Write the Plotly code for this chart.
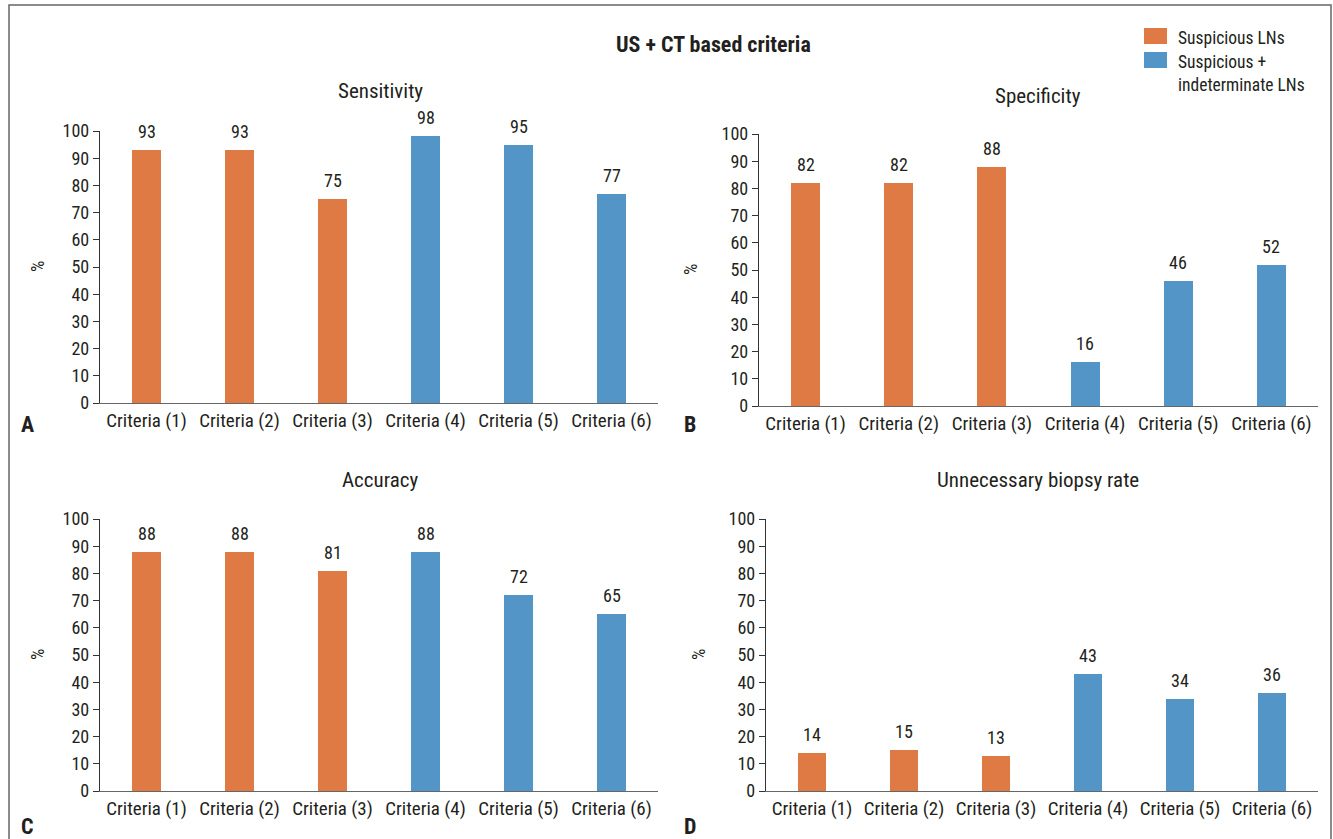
import plotly.graph_objects as go

W, H = 1333, 839

categories = ["Criteria (1)", "Criteria (2)", "Criteria (3)",
              "Criteria (4)", "Criteria (5)", "Criteria (6)"]
sensitivity = [93, 93, 75, 98, 95, 77]
specificity = [82, 82, 88, 16, 46, 52]
accuracy = [88, 88, 81, 88, 72, 65]
unnecessary_biopsy = [14, 15, 13, 43, 34, 36]

group_names = ["Suspicious LNs", "Suspicious +<br>indeterminate LNs"]
group_colors = ["#E07A44", "#5495C7"]
n_suspicious = 3  # first three criteria use suspicious LNs only

panel_titles = ["Sensitivity", "Specificity", "Accuracy", "Unnecessary biopsy rate"]
panel_letters = ["A", "B", "C", "D"]
y_ticks = list(range(0, 101, 10))

FONT = "Liberation Sans Narrow, Roboto Condensed, Arial Narrow, Liberation Sans, sans-serif"
TXT = "#231F20"


def px_x(v):
    return v / W


def px_y(v):
    return 1 - v / H


# plot-area boxes in pixels: (left, right, top, bottom)
boxes = [
    (100, 658, 131, 403),
    (759, 1318, 134, 406),
    (100, 658, 519, 791),
    (766, 1318, 519, 791),
]
series = [sensitivity, specificity, accuracy, unnecessary_biopsy]

fig = go.Figure()
annotations = []
shapes = []

for i, (vals, box) in enumerate(zip(series, boxes)):
    ax = "" if i == 0 else str(i + 1)
    xref, yref = "x" + ax, "y" + ax
    for g in range(2):
        cats = categories[:n_suspicious] if g == 0 else categories[n_suspicious:]
        ys = vals[:n_suspicious] if g == 0 else vals[n_suspicious:]
        fig.add_trace(go.Bar(
            x=cats, y=ys, width=0.31,
            marker=dict(color=group_colors[g], line=dict(width=0)),
            name=group_names[g].replace("<br>", " "), showlegend=False,
            xaxis=xref, yaxis=yref, hoverinfo="x+y",
        ))
        for c, v in zip(cats, ys):
            annotations.append(dict(
                x=c, y=v, xref=xref, yref=yref, text=str(v), showarrow=False,
                yanchor="bottom", yshift=6, font=dict(size=18, color=TXT, family=FONT),
            ))

    l, r, t, b = box
    fig.layout["xaxis" + ax] = dict(
        domain=[px_x(l), px_x(r)], anchor=yref, categoryorder="array",
        categoryarray=categories, range=[-0.5, 5.5], showline=True,
        linecolor="#666666", linewidth=1.3, ticks="", showgrid=False,
        automargin=False,
        tickfont=dict(size=19, color=TXT, family=FONT), fixedrange=True,
    )
    fig.layout["yaxis" + ax] = dict(
        domain=[px_y(b), px_y(t)], anchor=xref, range=[0, 100],
        tickvals=y_ticks, showline=True, linecolor="#333333", linewidth=1.3,
        ticks="outside", ticklen=6, tickcolor="#333333", tickwidth=1.3,
        showgrid=False, zeroline=False, automargin=False,
        tickfont=dict(size=18, color=TXT, family=FONT), fixedrange=True,
    )

# panel titles
title_pos = [(380, 91), (1038, 96), (380, 480), (1038, 480)]
for (tx, ty), title in zip(title_pos, panel_titles):
    annotations.append(dict(
        x=px_x(tx), y=px_y(ty), xref="paper", yref="paper", text=title,
        showarrow=False, xanchor="center", yanchor="middle",
        font=dict(size=21, color=TXT, family=FONT),
    ))

# axis unit labels
pct_pos = [(37, 267), (690, 270), (37, 655), (698, 655)]
for px_, py_ in pct_pos:
    annotations.append(dict(
        x=px_x(px_), y=px_y(py_), xref="paper", yref="paper", text="%",
        textangle=-90, showarrow=False, xanchor="center", yanchor="middle",
        font=dict(size=18, color=TXT, family=FONT),
    ))

# panel letters
letter_pos = [(27, 424), (690, 424), (27, 826), (690, 826)]
for (lx, ly), letter in zip(letter_pos, panel_letters):
    annotations.append(dict(
        x=px_x(lx), y=px_y(ly), xref="paper", yref="paper",
        text="<b>" + letter + "</b>", showarrow=False,
        xanchor="center", yanchor="middle",
        font=dict(size=22, color=TXT, family=FONT),
    ))

# overall title
annotations.append(dict(
    x=px_x(714), y=px_y(45), xref="paper", yref="paper",
    text="<b>US + CT based criteria</b>", showarrow=False,
    xanchor="center", yanchor="middle",
    font=dict(size=22, color=TXT, family=FONT),
))

# legend: colour swatches with labels
legend_rows = [(28, 44, 36), (52, 68, 60)]
for (y0, y1, ytxt), name, color in zip(legend_rows, group_names, group_colors):
    shapes.append(dict(
        type="rect", xref="paper", yref="paper",
        x0=px_x(1144), x1=px_x(1167), y0=px_y(y1), y1=px_y(y0),
        fillcolor=color, line=dict(width=0),
    ))
    annotations.append(dict(
        x=px_x(1176), y=px_y(ytxt - 10), xref="paper", yref="paper",
        text=name, showarrow=False, xanchor="left", yanchor="top", align="left",
        font=dict(size=17.5, color=TXT, family=FONT),
    ))

# outer frame
shapes.append(dict(
    type="rect", xref="paper", yref="paper",
    x0=px_x(9), x1=px_x(1331), y0=-0.02, y1=px_y(5),
    line=dict(color="#666666", width=1.5), fillcolor="rgba(0,0,0,0)",
))

fig.update_layout(
    width=W, height=H, margin=dict(l=0, r=0, t=0, b=0, autoexpand=False),
    paper_bgcolor="white", plot_bgcolor="white",
    barmode="overlay", bargap=0, showlegend=False,
    annotations=annotations, shapes=shapes,
    font=dict(family=FONT, color=TXT),
)

fig.write_html("out.html")
